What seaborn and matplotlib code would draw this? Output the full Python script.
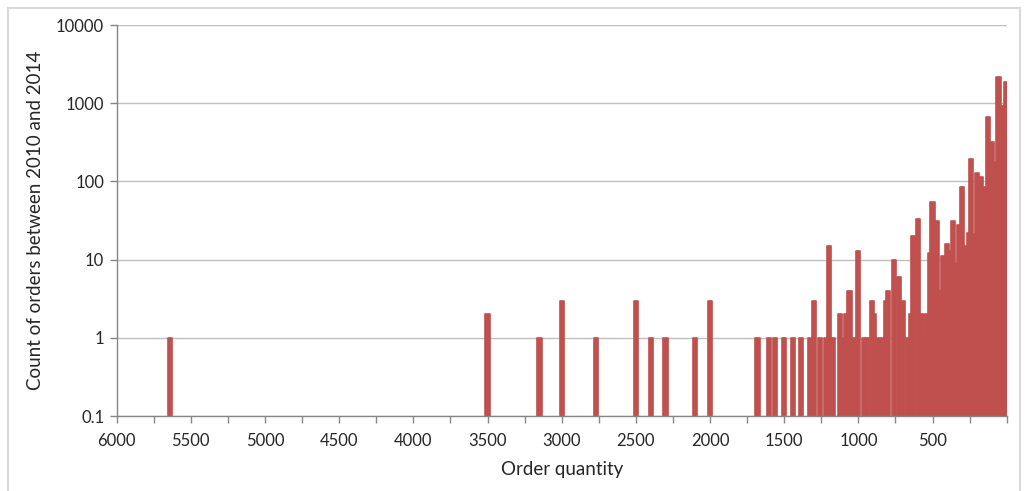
import numpy as np
import pandas as pd
import matplotlib
matplotlib.use("Agg")
import matplotlib.pyplot as plt
import seaborn as sns
from matplotlib.patches import Rectangle
from matplotlib.ticker import FixedLocator, FixedFormatter, NullLocator

# Bestellmengen (x) und Anzahl der Bestellungen (y)
order_qty = [5640, 3500, 3150, 3000, 2770, 2500, 2400, 2300, 2100, 2000,
             1680, 1600, 1560, 1500, 1440, 1385, 1325, 1300, 1260, 1215,
             1200, 1170, 1125, 1100, 1080, 1060, 1030, 1000, 960, 940,
             910, 895, 870, 840, 815, 800, 760, 725, 700, 665,
             645, 630, 600, 575, 555, 540, 515, 500, 470, 450,
             430, 400, 380, 360, 340, 320, 300, 275, 255, 240,
             225, 200, 175, 150, 125, 100, 80, 55, 25, 5]
order_count = [1, 2, 1, 3, 1, 3, 1, 1, 1, 3,
               1, 1, 1, 1, 1, 1, 1, 3, 1, 1,
               15, 1, 2, 1, 2, 4, 1, 13, 1, 1,
               3, 2, 1, 1, 3, 4, 10, 6, 3, 1,
               2, 20, 33, 2, 1, 2, 12, 55, 31, 4,
               11, 16, 13, 31, 9, 28, 84, 15, 22, 193,
               21, 130, 113, 84, 660, 316, 175, 2150, 930, 1850]

y_ticks = [0.1, 1, 10, 100, 1000, 10000]
y_tick_labels = ["0.1", "1", "10", "100", "1000", "10000"]
x_ticks = [6000, 5500, 5000, 4500, 4000, 3500, 3000, 2500, 2000, 1500, 1000, 500]
x_tick_labels = ["6000", "5500", "5000", "4500", "4000", "3500", "3000", "2500",
                 "2000", "1500", "1000", "500"]

df = pd.DataFrame({"qty": order_qty, "count": order_count})

bar_color = "#C0504D"
grid_color = "#BFBFBF"
axis_color = "#868686"

sns.set_style("white")
plt.rcParams["font.family"] = ["Lato", "DejaVu Sans"]

fig = plt.figure(figsize=(10.28, 4.91), dpi=100)
ax = fig.add_axes([0.1135, 0.1527, 0.8658, 0.7963])

sns.barplot(data=df, x="qty", y="count", native_scale=True, color=bar_color,
            saturation=1, errorbar=None, ax=ax)

# Balkenbreite wie im Excel-Diagramm (ca. 30 Einheiten)
bar_w = 28
for p in ax.patches:
    cx = p.get_x() + p.get_width() / 2
    p.set_width(bar_w)
    p.set_x(cx - bar_w / 2)
    p.set_edgecolor(bar_color)
    p.set_linewidth(1.2)
    p.set_joinstyle("round")

ax.set_yscale("log")
ax.set_ylim(0.1, 10000)
ax.set_xlim(6000, 0)

ax.yaxis.set_major_locator(FixedLocator(y_ticks))
ax.yaxis.set_major_formatter(FixedFormatter(y_tick_labels))
ax.yaxis.set_minor_locator(NullLocator())
ax.xaxis.set_major_locator(FixedLocator(x_ticks))
ax.xaxis.set_major_formatter(FixedFormatter(x_tick_labels))
ax.xaxis.set_minor_locator(FixedLocator(list(range(250, 6000, 500)) + [0]))

ax.grid(axis="y", color=grid_color, linewidth=1)
ax.set_axisbelow(True)
for side in ["top", "right"]:
    ax.spines[side].set_visible(False)
for side in ["left", "bottom"]:
    ax.spines[side].set_color(axis_color)
    ax.spines[side].set_linewidth(1)

ax.tick_params(axis="x", which="both", direction="out", length=5, color=axis_color,
               width=1, labelsize=12, pad=7, bottom=True)
ax.tick_params(axis="y", which="major", direction="out", length=5, color=axis_color,
               width=1, labelsize=12, pad=4, left=True)

ax.set_xlabel("Order quantity", fontsize=13.5, labelpad=9)
ax.set_ylabel("Count of orders between 2010 and 2014", fontsize=13.5, labelpad=9)

# Rahmen des Diagrammbereichs
fig.patches.append(Rectangle((8 / 1028, -0.01), 1012 / 1028, 1 - 8 / 491 + 0.01,
                             transform=fig.transFigure, fill=False,
                             edgecolor="#D9D9D9", linewidth=1.5))

fig.savefig("out.png", dpi=100)
